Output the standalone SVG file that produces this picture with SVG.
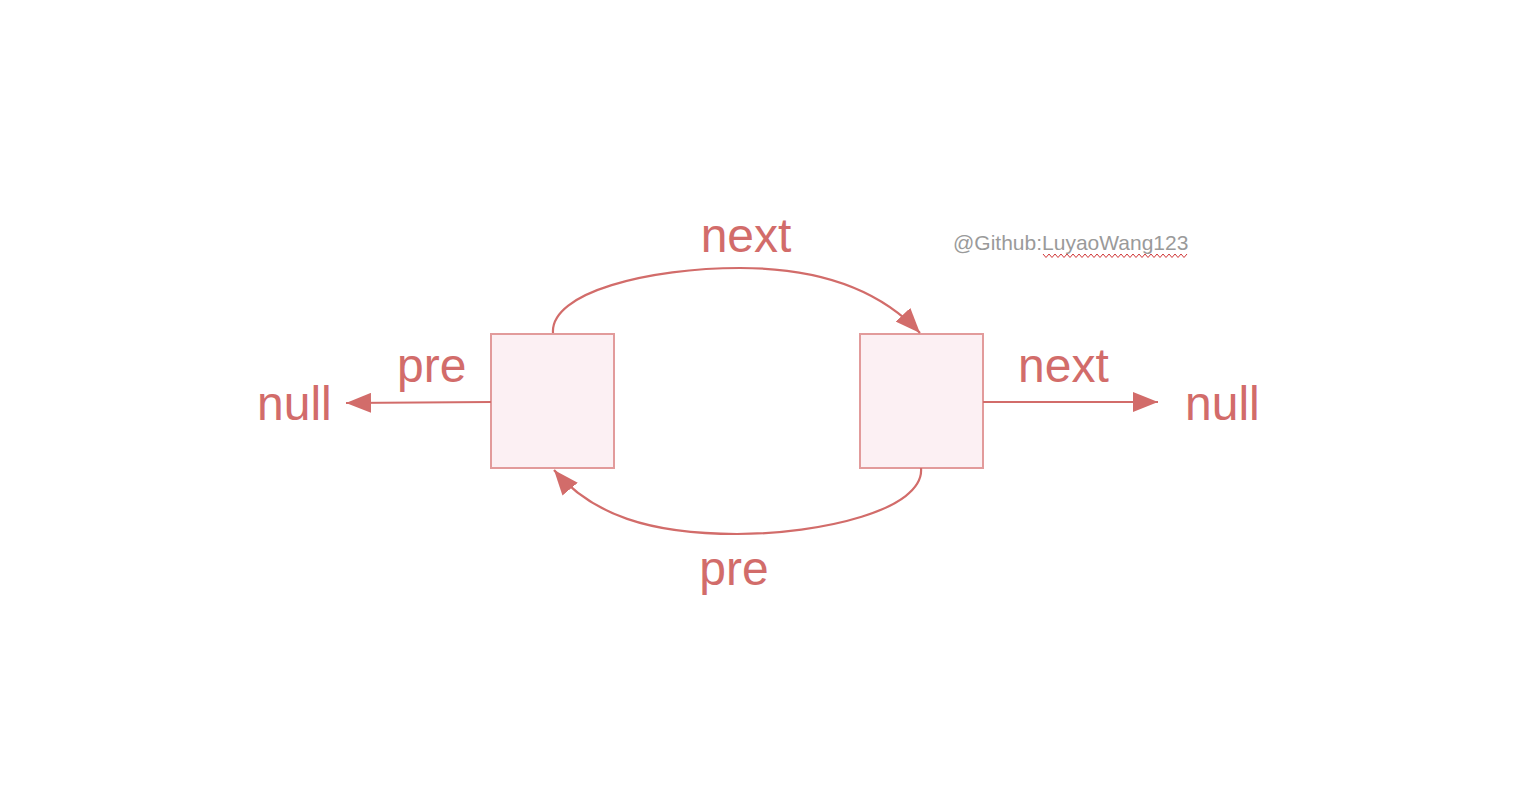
<svg xmlns="http://www.w3.org/2000/svg" width="1530" height="800" viewBox="0 0 1530 800">
<style>
.box{fill:#fcf0f3;stroke:#e29b9b;stroke-width:2}
.edge{fill:none;stroke:#d26c6a;stroke-width:2.2}
.lbl{font-family:"Liberation Sans",Arial,sans-serif;font-size:48px;fill:#d26c6a}
.wm{font-family:"Liberation Sans",Arial,sans-serif;font-size:21px;fill:#9a9a9a}
</style>
<defs>
<marker id="ah" markerUnits="userSpaceOnUse" markerWidth="26" markerHeight="20" refX="25" refY="10" orient="auto" viewBox="0 0 26 20">
<path d="M0,0 L25,10 L0,20 z" fill="#d26c6a"/>
</marker>
</defs>
<rect width="1530" height="800" fill="#ffffff"/>
<g id="node-left"><rect class="box" x="491" y="334" width="123" height="134"/></g>
<g id="node-right"><rect class="box" x="860" y="334" width="123" height="134"/></g>
<g id="null-left"><text class="lbl" x="257" y="420">null</text></g>
<g id="null-right"><text class="lbl" x="1185" y="420">null</text></g>
<g id="connectors">
<path class="edge" d="M553,333 C550,292 650,268 740,268 C820,268 880,290 920,333" marker-end="url(#ah)"/>
<path class="edge" d="M921,468 C925,510 820,534 737,534 C650,534 592,515 554,470" marker-end="url(#ah)"/>
<path class="edge" d="M491,402 L346,403" marker-end="url(#ah)"/>
<path class="edge" d="M983,402 L1158,402" marker-end="url(#ah)"/>
<text class="lbl" x="746" y="252" text-anchor="middle">next</text>
<text class="lbl" x="734" y="585" text-anchor="middle">pre</text>
<text class="lbl" x="397" y="382">pre</text>
<text class="lbl" x="1018" y="382">next</text>
</g>
<g id="watermark">
<text class="wm" x="953" y="250">@Github:LuyaoWang123</text>
<path d="M1043,254 l3,3.5 3,-3.5 3,3.5 3,-3.5 3,3.5 3,-3.5 3,3.5 3,-3.5 3,3.5 3,-3.5 3,3.5 3,-3.5 3,3.5 3,-3.5 3,3.5 3,-3.5 3,3.5 3,-3.5 3,3.5 3,-3.5 3,3.5 3,-3.5 3,3.5 3,-3.5 3,3.5 3,-3.5 3,3.5 3,-3.5 3,3.5 3,-3.5 3,3.5 3,-3.5 3,3.5 3,-3.5 3,3.5 3,-3.5 3,3.5 3,-3.5 3,3.5 3,-3.5 3,3.5 3,-3.5 3,3.5 3,-3.5 3,3.5 3,-3.5 3,3.5 3,-3.5" fill="none" stroke="#d0393a" stroke-width="1"/>
</g>
</svg>
